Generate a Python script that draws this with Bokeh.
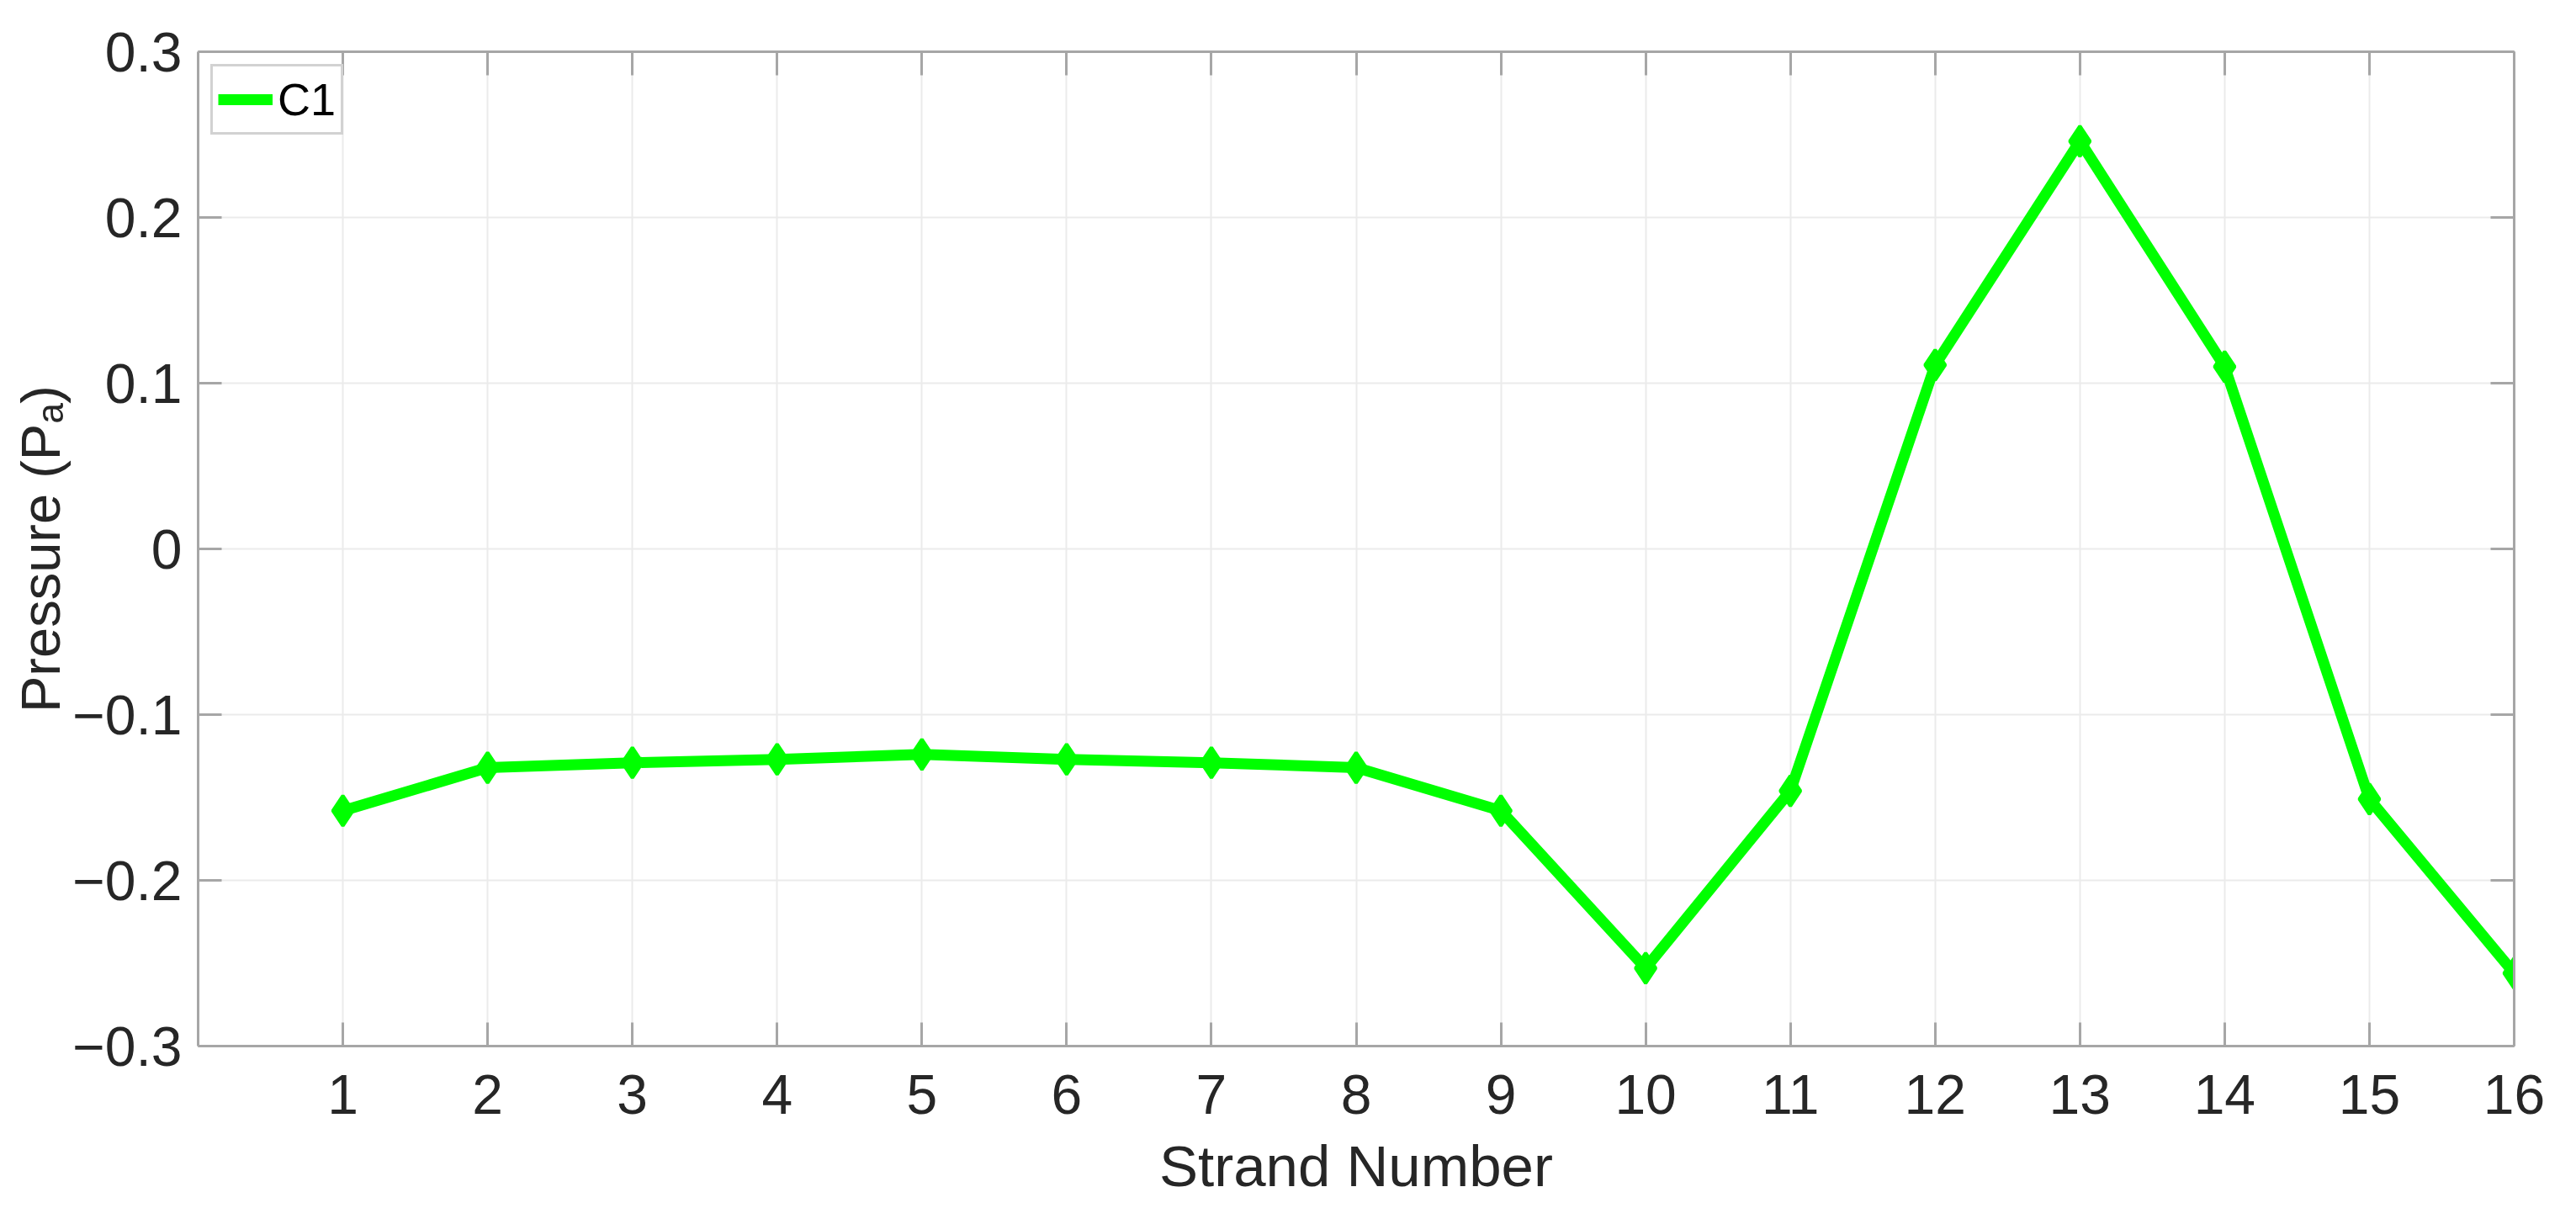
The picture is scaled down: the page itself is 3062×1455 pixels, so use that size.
from bokeh.plotting import figure
from bokeh.models import (LinearAxis, FixedTicker, Range1d, Legend, LegendItem,
                          CustomJSTickFormatter, ColumnDataSource, CDSView, IndexFilter)
from bokeh.embed import file_html
from bokeh.resources import INLINE

# ---- data ----
strands = [1, 2, 3, 4, 5, 6, 7, 8, 9, 10, 11, 12, 13, 14, 15, 16]
pressure = [-0.158, -0.132, -0.129, -0.127, -0.124, -0.127, -0.129, -0.132,
            -0.158, -0.253, -0.146, 0.111, 0.246, 0.110, -0.151, -0.256]
series_name = "C1"
x_ticks = [1, 2, 3, 4, 5, 6, 7, 8, 9, 10, 11, 12, 13, 14, 15, 16]
y_ticks = [-0.3, -0.2, -0.1, 0.0, 0.1, 0.2, 0.3]
y_tick_labels = ["\u22120.3", "\u22120.2", "\u22120.1", "0", "0.1", "0.2", "0.3"]
x_label = "Strand Number"
y_label = "Pressure (P\u2090)"

FONT = "Liberation Sans"
TEXT = "#262626"
AXIS = "#A6A6A6"
GREEN = "#00FF00"

p = figure(width=3046, height=1439,
           x_range=Range1d(0, 16), y_range=Range1d(-0.3, 0.3),
           output_backend="svg", toolbar_location=None,
           min_border_left=235, min_border_right=58,
           min_border_top=61, min_border_bottom=196,
           outline_line_color=None, background_fill_color="white")

src = ColumnDataSource(data=dict(x=strands, y=pressure))
ln = p.line("x", "y", source=src, line_color=GREEN, line_width=13)
sc = p.scatter("x", "y", source=src, marker="diamond", size=36,
               fill_color=GREEN, line_color=GREEN, line_width=4)
# legend-only marker (draws nothing in the plot area)
leg_marker = p.scatter("x", "y", source=src, view=CDSView(filter=IndexFilter([])),
                       marker="diamond", size=36,
                       fill_color=GREEN, line_color=GREEN, line_width=10)

xax = p.xaxis[0]
yax = p.yaxis[0]
xax.ticker = FixedTicker(ticks=x_ticks)
yax.ticker = FixedTicker(ticks=y_ticks)
yax.major_label_overrides = dict(zip(y_ticks, y_tick_labels))
xax.axis_label = x_label
yax.axis_label = y_label

blank = CustomJSTickFormatter(code="return ''")
top = LinearAxis(ticker=FixedTicker(ticks=x_ticks), formatter=blank)
right = LinearAxis(ticker=FixedTicker(ticks=y_ticks), formatter=blank)
p.add_layout(top, "above")
p.add_layout(right, "right")

for ax in [xax, yax, top, right]:
    ax.axis_line_color = AXIS
    ax.axis_line_width = 3
    ax.major_tick_line_color = AXIS
    ax.major_tick_line_width = 3
    ax.major_tick_in = 28
    ax.major_tick_out = 0
    ax.minor_tick_line_color = None
    ax.major_label_text_font = FONT
    ax.major_label_text_font_size = "66px"
    ax.major_label_text_color = TEXT
    ax.axis_label_text_font = FONT
    ax.axis_label_text_font_style = "normal"
    ax.axis_label_text_color = TEXT

xax.axis_label_text_font_size = "69px"
yax.axis_label_text_font_size = "65px"
top.major_label_standoff = 0
right.major_label_standoff = 0
xax.major_label_standoff = 34
xax.axis_label_standoff = 21
yax.major_label_standoff = 19
yax.axis_label_standoff = -2

p.xgrid.grid_line_color = "#EBEBEB"
p.xgrid.grid_line_width = 2
p.ygrid.grid_line_color = "#EBEBEB"
p.ygrid.grid_line_width = 2

legend = Legend(items=[LegendItem(label=series_name, renderers=[ln, leg_marker])],
                location="top_left", margin=15, padding=6,
                glyph_width=65, glyph_height=66, label_height=66,
                label_standoff=6, spacing=0,
                label_text_font=FONT, label_text_font_size="54px",
                label_text_color="#000000",
                border_line_color=AXIS, border_line_width=3,
                background_fill_color="white", background_fill_alpha=1.0)
p.add_layout(legend)

open("out.html", "w").write(file_html(p, INLINE))
